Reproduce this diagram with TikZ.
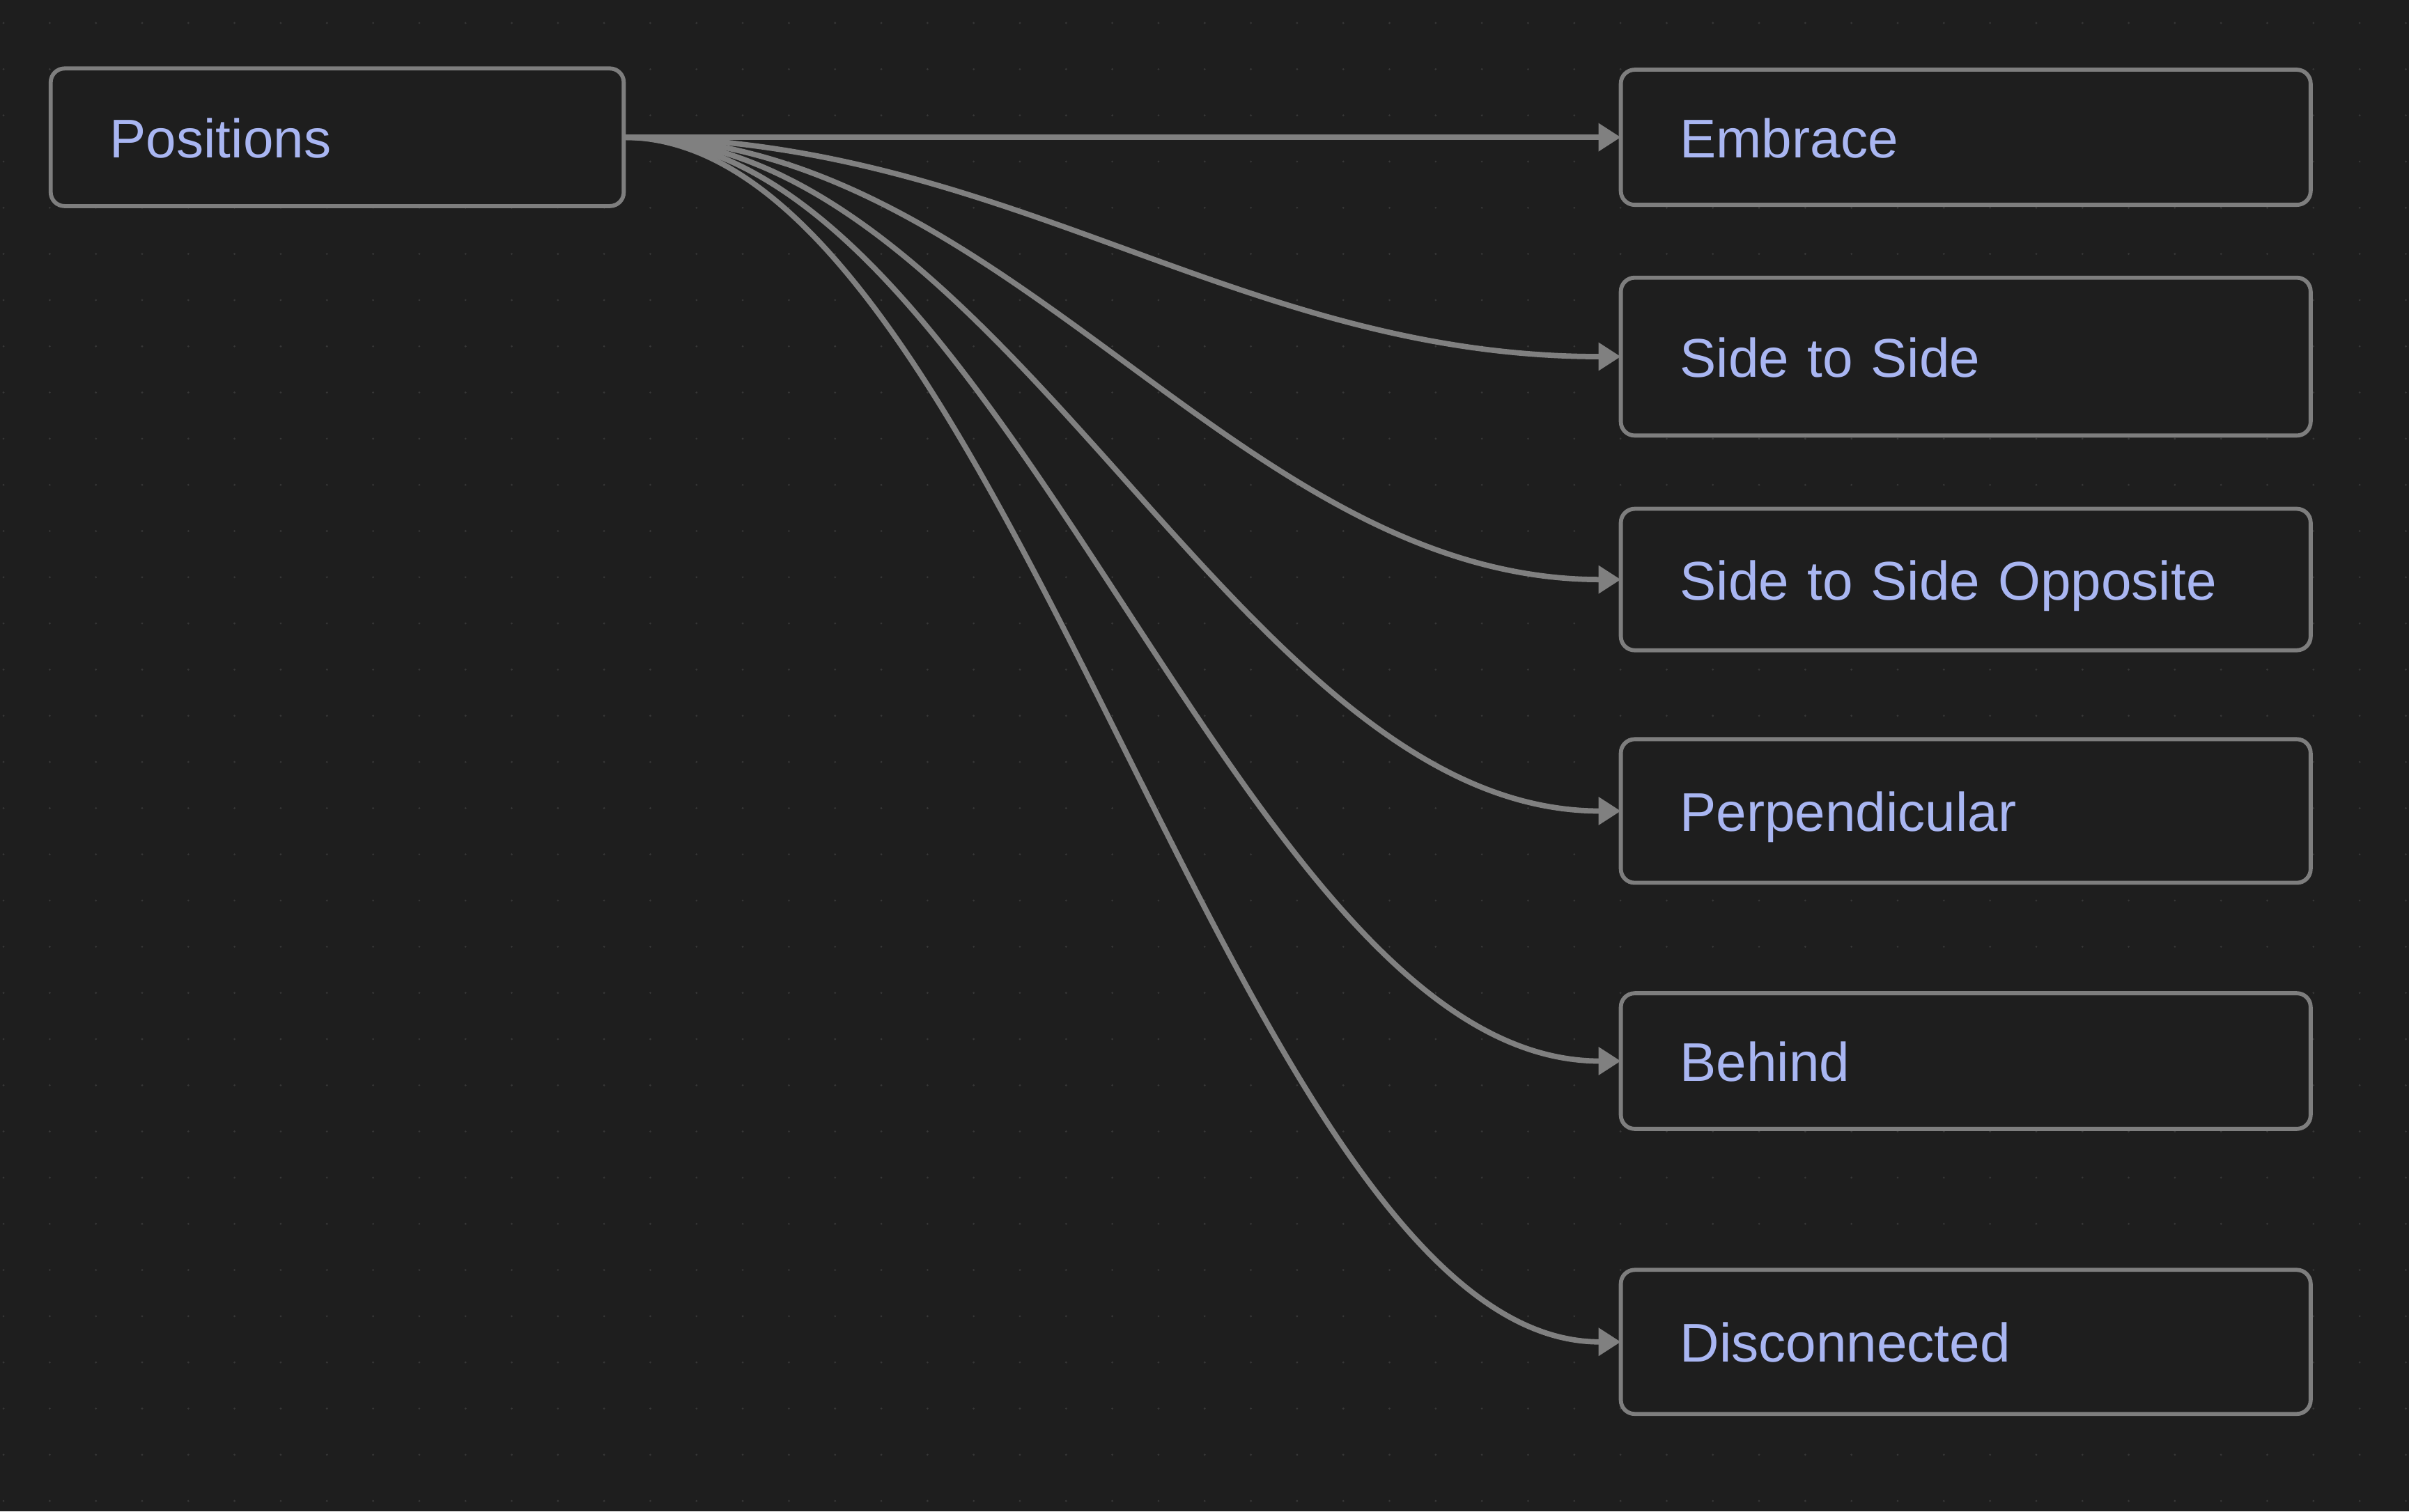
\documentclass[tikz,border=0pt]{standalone}
\usepackage{fontspec}
\setmainfont{Liberation Sans}
\usetikzlibrary{positioning, arrows.meta}
\definecolor{canvas}{HTML}{1E1E1E}
\definecolor{griddot}{HTML}{373737}
\definecolor{rim}{HTML}{7E7E7E}
\definecolor{wire}{HTML}{808080}
\definecolor{label}{HTML}{A9B6F2}
\tikzstyle{arrow} = [draw=wire, line width=1pt, -{Triangle[length=1.45mm, width=1.75mm]}]

\begin{document}
\begin{tikzpicture}[
x=0.1mm, y=0.1mm,
cardnode/.style={rectangle, draw=rim, line width=0.75pt, fill=canvas, rounded corners=0.9mm, outer sep=0pt,
  text=label, font=\fontsize{10.1pt}{12pt}\selectfont, align=left, inner xsep=3.85mm, inner ysep=0pt,
  text height=2.65mm, text depth=0pt},
leftcard/.style={cardnode, text width=29.6mm},
rightcard/.style={cardnode, text width=37.2mm}
]
% canvas and dot grid
\fill[canvas] (0,0) rectangle (1568,984);
\useasboundingbox (0,0) rectangle (1568,984);
\foreach \i in {0,...,52}
  \foreach \j in {0,...,32}
    \fill[griddot] (2.3+30.07*\i, 969-30.07*\j) circle (0.7);

\node[leftcard, minimum height=8.96mm] (pos) at (219.5,894.6) {Positions};
\node[rightcard, minimum height=8.8mm] (emb) [right=64.9mm of pos] {Embrace};
\node[rightcard, minimum height=10.28mm] (sts) [below=4.74mm of emb] {Side to Side};
\node[rightcard, minimum height=9.21mm] (sso) [below=4.77mm of sts] {Side to Side Opposite};
\node[rightcard, minimum height=9.35mm] (perp) [below=5.79mm of sso] {Perpendicular};
\node[rightcard, minimum height=8.83mm] (beh) [below=7.19mm of perp] {Behind};
\node[rightcard, minimum height=9.38mm] (dis) [below=9.18mm of beh] {Disconnected};

\draw[arrow] (pos.east) -- (emb.west);
\foreach \t in {sts,sso,perp,beh,dis}
  \draw[arrow] (pos.east) .. controls +(250,0) and +(-250,0) .. (\t.west);
\end{tikzpicture}
\end{document}
